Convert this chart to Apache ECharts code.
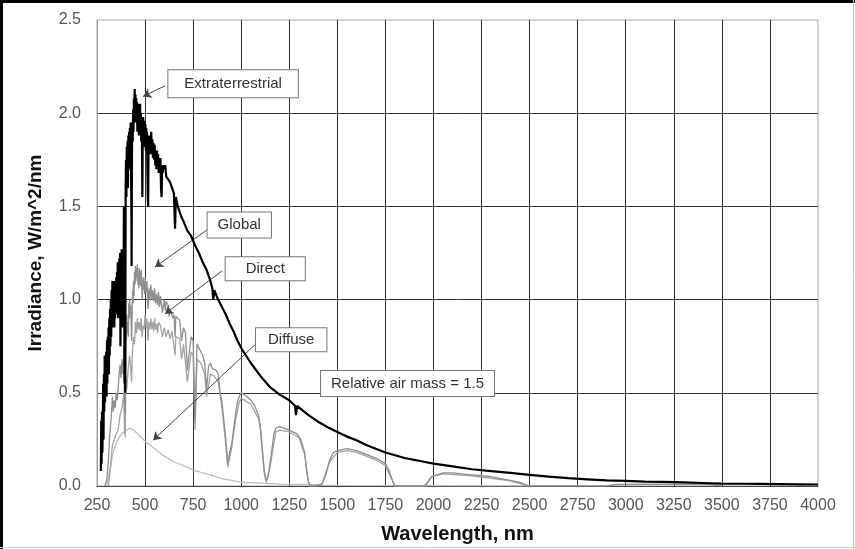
<!DOCTYPE html>
<html>
<head>
<meta charset="utf-8">
<script src="https://cdn.jsdelivr.net/npm/echarts@6/dist/echarts.min.js"></script>
<style>
  html, body { margin: 0; padding: 0; background: #fff; }
  #chart { width: 855px; height: 549px; }
</style>
</head>
<body>
<div id="chart"></div>
<script>
// Solar spectral irradiance, [wavelength nm, W/m^2/nm]
const extraterrestrial = [
  [270,0.08],[272,0.35],[274,0.12],[276,0.4],[278,0.18],[280,0.3],[282,0.55],[284,0.25],[286,0.6],[288,0.4],
  [290,0.7],[292,0.45],[294,0.68],[296,0.5],[298,0.72],[300,0.48],[302,0.78],[304,0.55],[306,0.8],[308,0.62],
  [310,0.85],[312,0.6],[314,0.9],[316,0.7],[318,0.95],[320,0.75],[322,1.0],[324,0.8],[326,1.05],[328,0.85],
  [330,1.1],[332,0.9],[334,1.08],[336,0.88],[338,1.1],[340,0.85],[342,1.05],[344,0.9],[346,1.1],[348,0.92],
  [350,1.12],[352,0.95],[354,1.15],[356,0.98],[358,1.2],[360,0.9],[362,1.18],[364,1.0],[366,1.22],[368,1.05],
  [370,1.25],[372,0.75],[374,1.22],[376,1.05],[378,1.27],[380,1.0],[382,1.25],[384,0.85],[386,1.2],[388,1.05],
  [390,1.5],[392,1.2],[393,0.55],[395,1.45],[397,0.5],[399,1.6],[401,1.75],[403,1.55],[405,1.82],[407,1.65],
  [409,1.85],[411,1.6],[413,1.88],[415,1.7],[417,1.9],[419,1.72],[421,1.92],[423,1.75],[425,1.95],[427,1.7],
  [429,1.45],[430,1.18],[432,1.8],[434,1.95],[436,1.85],[438,2.02],[440,1.9],[442,2.08],[444,1.95],[446,2.13],
  [448,1.98],[450,2.1],[452,1.95],[454,2.08],[456,1.97],[458,2.06],[460,1.9],[462,2.05],[464,1.95],[466,2.04],
  [468,1.88],[470,2.02],[472,1.92],[474,2.05],[476,1.9],[478,2.0],[480,1.85],[482,1.98],[484,1.8],[486,1.55],
  [488,1.9],[490,1.98],[492,1.85],[494,1.96],[496,1.82],[498,1.95],[500,1.86],[502,1.94],[504,1.8],[506,1.92],
  [508,1.84],[510,1.9],[512,1.7],[514,1.55],[516,1.5],[518,1.8],[520,1.88],[523,1.78],[526,1.87],[529,1.8],
  [532,1.9],[535,1.78],[538,1.86],[541,1.76],[544,1.84],[547,1.75],[550,1.83],[553,1.72],[556,1.8],[559,1.7],
  [562,1.8],[565,1.7],[568,1.78],[571,1.68],[574,1.76],[577,1.7],[580,1.76],[583,1.6],[586,1.55],[589,1.72],
  [592,1.68],[595,1.72],[600,1.7],[605,1.72],[610,1.66],[620,1.66],[630,1.63],[640,1.6],[650,1.57],[656,1.38],
  [660,1.55],[670,1.5],[680,1.47],[690,1.44],[700,1.42],[720,1.37],[740,1.34],[760,1.29],[780,1.25],[800,1.2],
  [820,1.16],[840,1.1],[850,1.06],[855,1.0],[860,1.05],[880,1.0],[900,0.96],[920,0.92],[940,0.87],[960,0.83],
  [980,0.78],[1000,0.74],[1050,0.66],[1100,0.59],[1150,0.53],[1200,0.49],[1250,0.46],[1280,0.43],[1285,0.38],[1290,0.43],
  [1300,0.42],[1350,0.38],[1400,0.345],[1450,0.315],[1500,0.29],[1550,0.265],[1600,0.245],[1650,0.22],[1700,0.2],[1750,0.18],
  [1800,0.165],[1850,0.15],[1900,0.14],[1950,0.13],[2000,0.12],[2100,0.105],[2200,0.09],[2300,0.08],[2400,0.07],[2500,0.06],
  [2600,0.05],[2700,0.042],[2800,0.036],[2900,0.03],[3000,0.027],[3100,0.024],[3200,0.022],[3300,0.019],[3400,0.016],[3500,0.013],
  [3600,0.012],[3700,0.011],[3800,0.01],[3900,0.009],[4000,0.008]
];

const globalIrr = [
  [290,0],[295,0.01],[300,0.03],[305,0.08],[310,0.15],[315,0.25],[320,0.32],[325,0.38],[330,0.48],[335,0.4],
  [340,0.46],[345,0.42],[350,0.5],[355,0.46],[360,0.52],[365,0.6],[370,0.65],[375,0.58],[380,0.68],[385,0.6],
  [390,0.75],[393,0.4],[395,0.7],[397,0.38],[400,0.85],[403,0.78],[405,0.92],[408,0.82],[410,0.88],[413,0.8],
  [415,0.98],[418,0.9],[420,1.0],[423,0.92],[425,0.97],[430,0.78],[435,1.05],[438,0.98],[440,1.1],[443,1.02],
  [445,1.15],[448,1.08],[450,1.18],[453,1.1],[455,1.17],[458,1.12],[460,1.19],[463,1.08],[465,1.14],[468,1.06],
  [470,1.17],[473,1.08],[475,1.15],[478,1.07],[480,1.16],[485,1.0],[490,1.12],[493,1.05],[495,1.1],[498,1.03],
  [500,1.12],[505,1.04],[510,1.1],[515,0.95],[520,1.06],[525,1.0],[530,1.08],[535,1.0],[540,1.05],[545,0.99],
  [550,1.06],[555,0.98],[560,1.03],[565,0.97],[570,1.04],[575,0.96],[580,1.02],[590,0.93],[600,1.0],[605,0.94],
  [610,0.99],[620,0.97],[625,0.91],[630,0.95],[640,0.96],[645,0.9],[650,0.92],[656,0.8],[660,0.91],[670,0.9],
  [680,0.89],[690,0.78],[700,0.85],[710,0.82],[720,0.62],[730,0.72],[740,0.8],[750,0.78],[760,0.35],[765,0.55],
  [770,0.76],[780,0.75],[790,0.72],[800,0.7],[810,0.66],[820,0.52],[830,0.64],[840,0.66],[850,0.63],[860,0.64],
  [870,0.62],[880,0.6],[890,0.5],[900,0.45],[910,0.35],[920,0.25],[930,0.12],[940,0.18],[950,0.22],[960,0.3],
  [970,0.38],[980,0.45],[990,0.48],[1000,0.5],[1010,0.49],[1030,0.48],[1050,0.46],[1070,0.43],[1090,0.38],[1100,0.32],
  [1110,0.2],[1120,0.08],[1130,0.03],[1140,0.05],[1150,0.12],[1160,0.2],[1170,0.28],[1180,0.31],[1200,0.32],[1220,0.31],
  [1250,0.3],[1270,0.29],[1290,0.28],[1310,0.25],[1330,0.18],[1340,0.08],[1350,0.02],[1360,0],[1400,0],[1420,0.01],
  [1440,0.06],[1460,0.14],[1480,0.18],[1500,0.19],[1550,0.2],[1600,0.19],[1650,0.17],[1700,0.15],[1750,0.12],[1770,0.08],
  [1790,0.02],[1800,0],[1950,0],[1970,0.02],[1990,0.05],[2000,0.06],[2050,0.07],[2100,0.07],[2150,0.065],[2200,0.06],
  [2250,0.055],[2300,0.05],[2350,0.04],[2400,0.03],[2450,0.02],[2480,0.005],[2500,0],[2900,0],[2950,0.008],[3200,0.01],
  [3450,0.008],[3500,0]
];

const direct = [
  [310,0],[320,0.1],[330,0.22],[340,0.25],[350,0.28],[360,0.3],[370,0.38],[380,0.42],[390,0.5],[393,0.28],
  [395,0.48],[397,0.26],[400,0.58],[405,0.52],[410,0.6],[415,0.66],[420,0.7],[425,0.64],[430,0.56],[435,0.74],
  [440,0.8],[445,0.76],[450,0.88],[455,0.82],[460,0.9],[465,0.84],[470,0.88],[475,0.83],[480,0.9],[485,0.8],
  [490,0.86],[495,0.84],[500,0.92],[505,0.85],[510,0.9],[515,0.78],[520,0.88],[525,0.84],[530,0.9],[535,0.84],
  [540,0.88],[545,0.83],[550,0.9],[555,0.84],[560,0.87],[565,0.82],[570,0.88],[580,0.86],[590,0.8],[600,0.85],
  [610,0.8],[620,0.84],[630,0.79],[640,0.83],[656,0.7],[660,0.8],[680,0.79],[690,0.68],[700,0.76],[720,0.56],
  [740,0.72],[750,0.7],[760,0.3],[770,0.68],[790,0.66],[810,0.6],[820,0.48],[840,0.6],[860,0.59],[880,0.56],
  [900,0.42],[920,0.22],[930,0.1],[950,0.2],[970,0.35],[990,0.45],[1000,0.47],[1050,0.44],[1090,0.36],[1100,0.3],
  [1120,0.07],[1130,0.02],[1150,0.1],[1180,0.29],[1200,0.3],[1250,0.29],[1300,0.26],[1330,0.17],[1350,0.02],[1360,0],
  [1420,0.01],[1460,0.13],[1500,0.18],[1550,0.19],[1600,0.18],[1700,0.14],[1750,0.11],[1790,0.02],[1800,0],[1960,0],
  [1990,0.05],[2050,0.065],[2200,0.055],[2400,0.028],[2500,0]
];

const diffuse = [
  [300,0],[310,0.05],[320,0.1],[330,0.16],[340,0.2],[350,0.23],[360,0.25],[370,0.27],[380,0.28],[390,0.29],
  [400,0.3],[420,0.31],[440,0.3],[460,0.28],[480,0.26],[500,0.24],[550,0.2],[600,0.16],[650,0.13],[700,0.11],
  [750,0.085],[800,0.07],[850,0.055],[900,0.04],[950,0.03],[1000,0.02],[1100,0.015],[1200,0.01],[1300,0.008],[1400,0.004],
  [1500,0.003],[2000,0.002],[2500,0.001]
];

// Text boxes: [label, wavelength, irradiance] (centre of box)
const boxLabels = [
  ['Extraterrestrial', 958, 2.158],
  ['Global', 990, 1.40],
  ['Direct', 1125, 1.165],
  ['Diffuse', 1260, 0.785],
  ['Relative air mass = 1.5', 1865, 0.55]
];
const boxPadding = [[6, 16], [5, 10], [4, 20], [4, 12], [5, 10]];

// Arrows from box to curve: [fromWl, fromVal, toWl, toVal]
const arrows = [
  [604, 2.147, 490, 2.09],
  [844, 1.39, 552, 1.175],
  [901, 1.154, 604, 0.924],
  [1078, 0.764, 542, 0.246]
];

const xMin = 250, xMax = 4000, xStep = 250;
const yMin = 0, yMax = 2.5, yStep = 0.5;

const chart = echarts.init(document.getElementById('chart'));
const font = '"Liberation Sans", Arial, sans-serif';

function curve(name, data, color, width, z) {
  return {
    name: name, type: 'line', data: data, z: z,
    showSymbol: false, symbol: 'none', sampling: null,
    lineStyle: { color: color, width: width }, silent: true
  };
}

chart.setOption({
  animation: false,
  backgroundColor: '#fff',
  grid: { left: 97, right: 37, top: 20, bottom: 61, show: true, borderColor: '#aaa', borderWidth: 1 },
  xAxis: {
    type: 'value', min: xMin, max: xMax, interval: xStep,
    name: 'Wavelength, nm', nameLocation: 'middle', nameGap: 38,
    nameTextStyle: { fontFamily: font, fontWeight: 'bold', fontSize: 20, color: '#111' },
    axisLine: { show: true, lineStyle: { color: '#444', width: 1 } },
    axisTick: { show: false },
    axisLabel: { fontFamily: font, fontSize: 16, color: '#555', margin: 12, formatter: v => String(v) },
    splitLine: { show: true, showMinLine: false, showMaxLine: false, lineStyle: { color: '#333', width: 1 } }
  },
  yAxis: {
    type: 'value', min: yMin, max: yMax, interval: yStep,
    name: 'Irradiance, W/m^2/nm', nameLocation: 'middle', nameGap: 52,
    nameTextStyle: { fontFamily: font, fontWeight: 'bold', fontSize: 19, color: '#111' },
    axisLine: { show: true, lineStyle: { color: '#999', width: 1 } },
    axisTick: { show: false },
    axisLabel: { fontFamily: font, fontSize: 16, color: '#555', margin: 16, formatter: v => v.toFixed(1) },
    splitLine: { show: true, showMinLine: false, showMaxLine: false, lineStyle: { color: '#333', width: 1 } }
  },
  series: [
    curve('Diffuse', diffuse, '#bcbcbc', 1.3, 2),
    curve('Direct', direct, '#a2a2a2', 1.3, 3),
    curve('Global', globalIrr, '#8e8e8e', 1.3, 4),
    curve('Extraterrestrial', extraterrestrial, '#000', 2.2, 5),
    {
      type: 'scatter', data: [], z: 10, silent: true,
      markLine: {
        silent: true, symbol: ['none', 'arrow'], symbolSize: 8,
        label: { show: false },
        lineStyle: { color: '#444', width: 1, type: 'solid' },
        data: arrows.map(a => [{ coord: [a[0], a[1]] }, { coord: [a[2], a[3]] }])
      },
      markPoint: {
        silent: true, symbol: 'rect', symbolSize: 1,
        itemStyle: { color: 'rgba(0,0,0,0)' },
        data: boxLabels.map((b, i) => ({
          name: b[0], coord: [b[1], b[2]],
          label: {
            show: true, position: 'inside', formatter: '{b}',
            fontFamily: font, fontSize: 15, color: '#333',
            backgroundColor: '#fff', borderColor: '#777', borderWidth: 1,
            padding: boxPadding[i]
          }
        }))
      }
    }
  ],
  graphic: [
    { type: 'line', shape: { x1: 0, y1: 1.5, x2: 855, y2: 1.5 }, style: { stroke: '#000', lineWidth: 3 } },
    { type: 'line', shape: { x1: 1.5, y1: 0, x2: 1.5, y2: 549 }, style: { stroke: '#000', lineWidth: 3 } },
    { type: 'line', shape: { x1: 853.5, y1: 0, x2: 853.5, y2: 549 }, style: { stroke: '#bbb', lineWidth: 1 } },
    { type: 'line', shape: { x1: 0, y1: 547.5, x2: 855, y2: 547.5 }, style: { stroke: '#ccc', lineWidth: 1 } }
  ]
});
</script>
</body>
</html>
